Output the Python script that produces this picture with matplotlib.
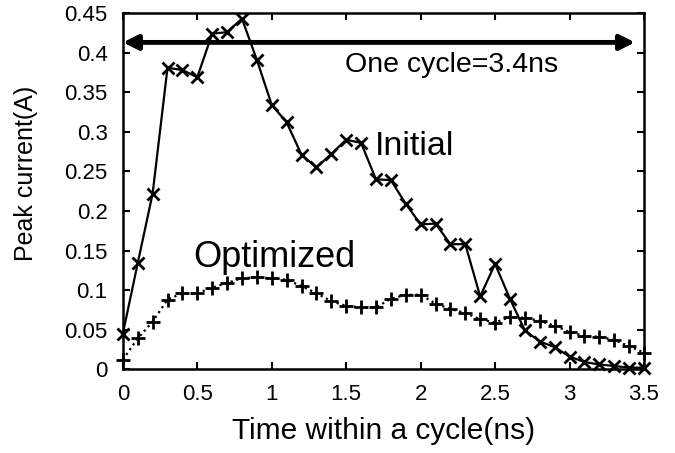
import numpy as np
import matplotlib
matplotlib.use('Agg')
import matplotlib.pyplot as plt

plt.rcParams['font.family'] = ['Liberation Sans', 'DejaVu Sans']

# time within a cycle (ns), sampled every 0.1 ns
time_ns = [0.0, 0.1, 0.2, 0.3, 0.4, 0.5, 0.6, 0.7, 0.8, 0.9,
           1.0, 1.1, 1.2, 1.3, 1.4, 1.5, 1.6, 1.7, 1.8, 1.9,
           2.0, 2.1, 2.2, 2.3, 2.4, 2.5, 2.6, 2.7, 2.8, 2.9,
           3.0, 3.1, 3.2, 3.3, 3.4, 3.5]
# peak current of the initial design (A)
initial = [0.045, 0.134, 0.222, 0.381, 0.378, 0.369, 0.424, 0.426, 0.443, 0.391,
           0.334, 0.312, 0.271, 0.255, 0.272, 0.290, 0.286, 0.240, 0.239, 0.209,
           0.183, 0.184, 0.158, 0.158, 0.092, 0.133, 0.089, 0.049, 0.035, 0.028,
           0.016, 0.009, 0.006, 0.004, 0.002, 0.002]
# peak current of the optimized design (A)
optimized = [0.012, 0.039, 0.060, 0.088, 0.096, 0.096, 0.103, 0.109, 0.115, 0.116,
             0.115, 0.113, 0.105, 0.096, 0.086, 0.080, 0.078, 0.078, 0.089, 0.094,
             0.094, 0.083, 0.076, 0.071, 0.063, 0.059, 0.066, 0.065, 0.061, 0.055,
             0.047, 0.042, 0.041, 0.037, 0.029, 0.021]

x_ticks = [0, 0.5, 1, 1.5, 2, 2.5, 3, 3.5]
x_tick_labels = ['0', '0.5', '1', '1.5', '2', '2.5', '3', '3.5']
y_ticks = [0, 0.05, 0.1, 0.15, 0.2, 0.25, 0.3, 0.35, 0.4, 0.45]
y_tick_labels = ['0', '0.05', '0.1', '0.15', '0.2', '0.25', '0.3', '0.35', '0.4', '0.45']

fig = plt.figure(figsize=(6.75, 4.53), dpi=100)
ax = fig.add_axes([0.182, 0.185, 0.772, 0.786])

# the two curves
ax.plot(time_ns, initial, color='black', lw=1.6, marker='x', ms=8, mew=2, clip_on=False)
ax.plot(time_ns, optimized, color='black', lw=1.6, ls=':', marker='+', ms=10, mew=2, clip_on=False)

# one cycle arrow
ax.annotate('', xy=(0, 0.413), xytext=(3.44, 0.413),
            arrowprops=dict(arrowstyle='<|-|>', color='black', lw=3.5, mutation_scale=22,
                            shrinkA=0, shrinkB=0))
ax.text(1.49, 0.3755, 'One cycle=3.4ns', fontsize=20.5, va='baseline', ha='left')
ax.text(1.69, 0.2705, 'Initial', fontsize=24.5, va='baseline', ha='left')
ax.text(0.47, 0.129, 'Optimized', fontsize=26, va='baseline', ha='left')

ax.set_xlim(0, 3.5)
ax.set_ylim(0, 0.45)
ax.set_xticks(x_ticks)
ax.set_xticklabels(x_tick_labels)
ax.set_yticks(y_ticks)
ax.set_yticklabels(y_tick_labels)
ax.tick_params(direction='in', length=5, width=1.5, labelsize=16,
               top=True, right=True, pad=11)
for s in ax.spines.values():
    s.set_linewidth(1.8)

ax.set_xlabel('Time within a cycle(ns)', fontsize=21.5, labelpad=8)
ax.set_ylabel('Peak current(A)', fontsize=18)
ax.yaxis.set_label_coords(-0.163, 0.55)

plt.savefig('out.png', dpi=100)
